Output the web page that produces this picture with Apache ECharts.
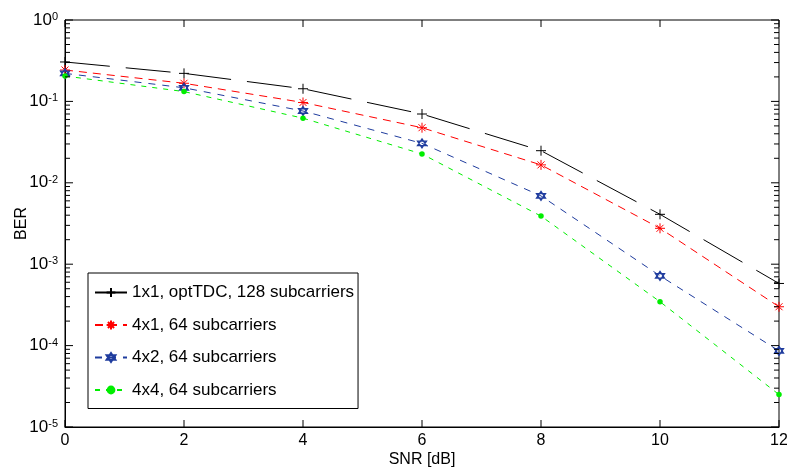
<!DOCTYPE html>
<html><head><meta charset="utf-8">
<script src="https://cdn.jsdelivr.net/npm/echarts@6/dist/echarts.min.js"></script>
<style>html,body{margin:0;padding:0;background:#fff}#c{width:787px;height:470px}</style>
</head><body><div id="c"></div>
<script>
const snr = [0, 2, 4, 6, 8, 10, 12];
const ber1x1 = [0.305, 0.221, 0.143, 0.070, 0.0248, 0.0041, 5.8e-4];
const ber4x1 = [0.243, 0.167, 0.097, 0.0475, 0.0166, 0.00276, 3.0e-4];
const ber4x2 = [0.221, 0.147, 0.0762, 0.0305, 0.0069, 7.2e-4, 8.6e-5];
const ber4x4 = [0.205, 0.132, 0.0622, 0.0226, 0.0039, 3.46e-4, 2.5e-5];
const seriesNames = ['1x1, optTDC, 128 subcarriers', '4x1, 64 subcarriers', '4x2, 64 subcarriers', '4x4, 64 subcarriers'];
const xTicks = [0, 2, 4, 6, 8, 10, 12];
const yDecades = [1e-5, 1e-4, 1e-3, 1e-2, 1e-1, 1];
const yMinor = [];
for (let e = -5; e < 0; e++) for (let k = 2; k <= 9; k++) yMinor.push(+(k * Math.pow(10, e)).toPrecision(3));

const FONT = 'Liberation Sans, Arial, Helvetica, sans-serif';
const pairs = arr => snr.map((x, i) => [x, arr[i]]);
const X_MIN = 0, X_MAX = 12, Y_MIN = 1e-5, Y_MAX = 1;

const chart = echarts.init(document.getElementById('c'), null, {renderer: 'canvas'});
const tickStyle = {color: '#000', width: 1};

// tick marks drawn through the axis scales (inside ticks on all four sides)
const tickItems = []
  .concat(xTicks.map(v => ['x', v, 7]))
  .concat(yDecades.map(v => ['y', v, 8]))
  .concat(yMinor.map(v => ['y', v, 5]));

function renderTick(params, api) {
  const kind = tickItems[params.dataIndex][0];
  const v = tickItems[params.dataIndex][1];
  const len = tickItems[params.dataIndex][2];
  const st = {stroke: '#000', lineWidth: 1};
  if (kind === 'x') {
    const b = api.coord([v, Y_MIN]);
    const t = api.coord([v, Y_MAX]);
    return {type: 'group', children: [
      {type: 'line', shape: {x1: b[0], y1: b[1], x2: b[0], y2: b[1] - len}, style: st},
      {type: 'line', shape: {x1: t[0], y1: t[1], x2: t[0], y2: t[1] + len}, style: st}
    ]};
  } else {
    const l = api.coord([X_MIN, v]);
    const r = api.coord([X_MAX, v]);
    return {type: 'group', children: [
      {type: 'line', shape: {x1: l[0], y1: l[1], x2: l[0] + len, y2: l[1]}, style: st},
      {type: 'line', shape: {x1: r[0], y1: r[1], x2: r[0] - len, y2: r[1]}, style: st}
    ]};
  }
}

const option = {
  animation: false,
  backgroundColor: '#fff',
  grid: {left: 65, right: 8, top: 20, bottom: 43, show: true, borderColor: '#000', borderWidth: 1,
         backgroundColor: 'transparent', containLabel: false, outerBoundsMode: 'none'},
  legend: {
    orient: 'vertical', left: 88, top: 273,
    backgroundColor: '#fff', borderColor: '#000', borderWidth: 1,
    padding: [11, 4, 10, 6], itemGap: 15.5, itemWidth: 32, itemHeight: 11,
    textStyle: {fontSize: 17, color: '#000', fontFamily: FONT},
    data: seriesNames
  },
  xAxis: {type: 'value', min: X_MIN, max: X_MAX, interval: 2, position: 'bottom',
     axisLine: {show: true, lineStyle: tickStyle},
     axisTick: {show: false},
     axisLabel: {fontSize: 16, color: '#000', fontFamily: FONT, margin: 6},
     splitLine: {show: false},
     name: 'SNR [dB]', nameLocation: 'middle', nameGap: 25, nameMoveOverlap: false,
     nameTextStyle: {fontSize: 16, color: '#000', fontFamily: FONT}},
  yAxis: {type: 'log', logBase: 10, min: Y_MIN, max: Y_MAX, position: 'left',
      splitLine: {show: false},
      axisLine: {show: true, lineStyle: tickStyle},
      axisTick: {show: false},
      axisLabel: {
        margin: 7, color: '#000',
        formatter: v => '{b|10}{e|' + Math.round(Math.log10(v)) + '}',
        rich: {
          b: {fontSize: 17, lineHeight: 17, verticalAlign: 'bottom', color: '#000', fontFamily: FONT},
          e: {fontSize: 11, lineHeight: 11, verticalAlign: 'top', padding: [0, 0, 10, 0], color: '#000', fontFamily: FONT}
        }
      },
      name: 'BER', nameLocation: 'middle', nameGap: 35, nameMoveOverlap: false,
      nameTextStyle: {fontSize: 16, color: '#000', fontFamily: FONT}},
  series: [
    {type: 'custom', data: tickItems.map((t, i) => [X_MIN, Y_MAX]), renderItem: renderTick,
     silent: true, clip: false, z: 5},
    {name: seriesNames[0], type: 'line', data: pairs(ber1x1), clip: false,
     symbol: 'path://M0,5L10,5M5,0L5,10', symbolSize: 10,
     itemStyle: {color: 'none', borderColor: '#000', borderWidth: 1},
     lineStyle: {color: '#000', width: 1, type: [45, 16]}},
    {name: seriesNames[1], type: 'line', data: pairs(ber4x1), clip: false,
     symbol: 'path://M5,0L5,10M0,5L10,5M1.5,1.5L8.5,8.5M8.5,1.5L1.5,8.5', symbolSize: 10,
     itemStyle: {color: 'none', borderColor: '#ff0000', borderWidth: 1},
     lineStyle: {color: '#ff0000', width: 1, type: [8, 6]}},
    {name: seriesNames[2], type: 'line', data: pairs(ber4x2), clip: false,
     symbol: 'path://M5,0L9.33,7.5L0.67,7.5ZM5,10L0.67,2.5L9.33,2.5Z', symbolSize: 9,
     itemStyle: {color: 'none', borderColor: '#1f3c9e', borderWidth: 1.3},
     lineStyle: {color: '#1f3c9e', width: 1, type: [7, 7]}},
    {name: seriesNames[3], type: 'line', data: pairs(ber4x4), clip: false,
     symbol: 'circle', symbolSize: 5.5,
     itemStyle: {color: '#00ee00', borderColor: '#00ee00', borderWidth: 0},
     lineStyle: {color: '#00ee00', width: 1, type: [5, 6]}}
  ]
};
chart.setOption(option);
</script></body></html>
